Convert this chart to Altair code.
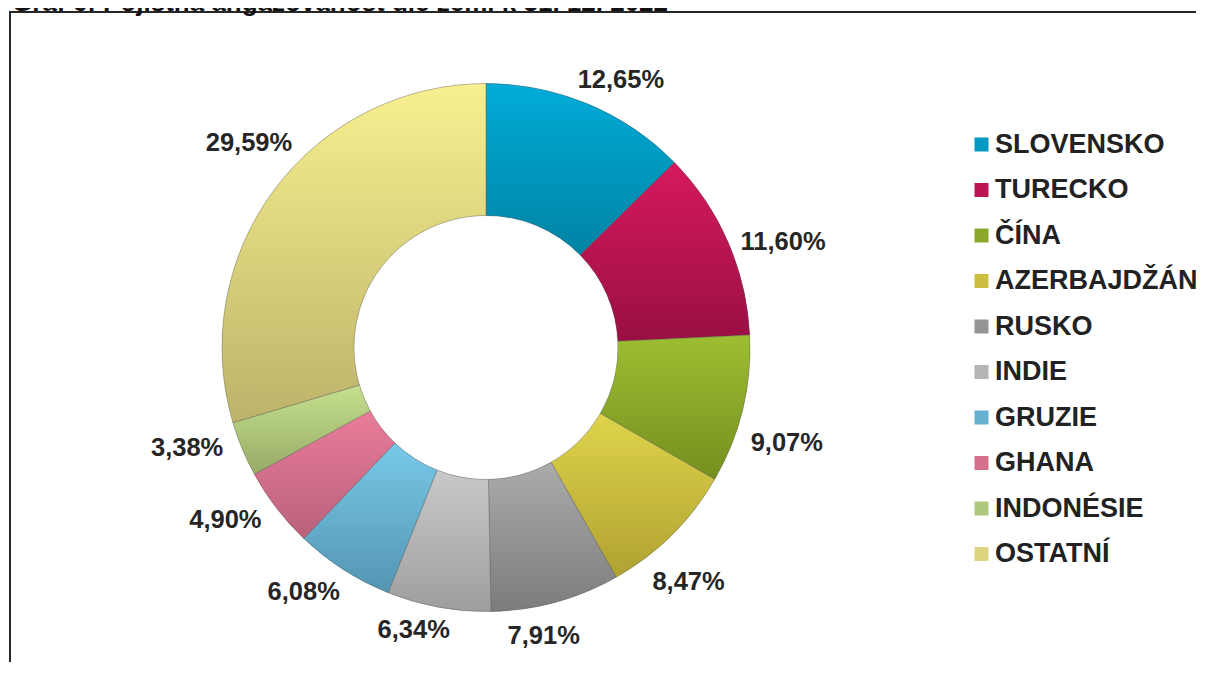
import altair as alt
import pandas as pd

countries = ["SLOVENSKO", "TURECKO", "ČÍNA", "AZERBAJDŽÁN", "RUSKO",
             "INDIE", "GRUZIE", "GHANA", "INDONÉSIE", "OSTATNÍ"]
shares = [12.65, 11.60, 9.07, 8.47, 7.91, 6.34, 6.08, 4.90, 3.38, 29.59]
labels = ["12,65%", "11,60%", "9,07%", "8,47%", "7,91%",
          "6,34%", "6,08%", "4,90%", "3,38%", "29,59%"]
top_colors = ["#00ACD8", "#D6195F", "#9DBE32", "#DFD44B", "#ABABAB",
              "#C9C9C9", "#78C9E8", "#E97C99", "#C6E08F", "#F8F08F"]
bottom_colors = ["#0083A3", "#990F44", "#748F1E", "#B0A132", "#7C7C7C",
                 "#9E9E9E", "#5395B2", "#BA617C", "#96AB66", "#BCB36A"]
legend_colors = ["#0099C2", "#BC1554", "#8AA92A", "#CBBE40", "#959595",
                 "#B5B5B5", "#66B0D0", "#D6708D", "#AFC87D", "#DDD47F"]
title_text = "Graf 6: Pojistná angažovanost dle zemí k 31. 12. 2022"

FONT = "Liberation Sans"
CX, CY = 478, 339.5
R_OUT, R_IN = 264, 132

df = pd.DataFrame({"country": countries, "share": shares, "label": labels,
                   "order": list(range(len(countries)))})

base = alt.Chart(df).transform_joinaggregate(
    total="sum(share)"
).transform_window(
    cum="sum(share)", sort=[alt.SortField("order")], frame=[None, 0]
).transform_calculate(
    start="(datum.cum - datum.share) / datum.total * 2 * PI",
    end="datum.cum / datum.total * 2 * PI",
    mid="(datum.cum - datum.share / 2) / datum.total * 2 * PI",
).transform_calculate(
    lr="272 + 42 * abs(sin(datum.mid)) + 12 * abs(cos(datum.mid))",
    lt="datum.mid + 0.07",
)

ring = base.mark_arc(innerRadius=R_IN, outerRadius=R_OUT).encode(
    theta=alt.Theta("start:Q", scale=None),
    theta2="end:Q",
    color=alt.Color(
        "country:N",
        scale=alt.Scale(domain=countries, range=legend_colors),
        legend=alt.Legend(
            title=None, orient="none", legendX=960, legendY=123,
            symbolType="square", symbolSize=196, symbolStrokeWidth=0,
            symbolOpacity=1, labelFont=FONT, labelFontSize=27,
            labelFontWeight="bold", labelColor="#222222", labelOffset=0,
            rowPadding=17.5, padding=0, labelLimit=400,
        ),
    ),
    x=alt.value(CX), y=alt.value(CY),
)

shades = []
for c, t, b in zip(countries, top_colors, bottom_colors):
    grad = alt.LinearGradient(
        gradient="linear", x1=0, y1=0, x2=0, y2=1,
        stops=[alt.GradientStop(offset=0, color=t),
               alt.GradientStop(offset=1, color=b)],
    )
    shades.append(
        base.transform_filter(alt.datum.country == c).mark_arc(
            innerRadius=R_IN, outerRadius=R_OUT, fill=grad,
            stroke="#5a5a5a", strokeWidth=0.4,
        ).encode(
            theta=alt.Theta("start:Q", scale=None),
            theta2="end:Q",
            x=alt.value(CX), y=alt.value(CY),
        )
    )

text = base.mark_text(
    font=FONT, fontSize=25.5, fontWeight="bold", color="#262626",
    align="center", baseline="middle",
).encode(
    theta=alt.Theta("lt:Q", scale=None),
    radius=alt.Radius("lr:Q", scale=None),
    text="label:N",
    x=alt.value(CX), y=alt.value(CY),
)

title = alt.Chart(pd.DataFrame({"t": [title_text]})).mark_text(
    align="left", baseline="alphabetic", font=FONT, fontSize=26,
    fontWeight="bold", color="#111111",
).encode(text="t:N", x=alt.value(4), y=alt.value(3))

frame = alt.Chart(pd.DataFrame({"f": [0]})).mark_rect(
    fillOpacity=0, stroke="#262626", strokeWidth=2,
).encode(x=alt.value(2), x2=alt.value(1500), y=alt.value(4), y2=alt.value(1200))

chart = alt.layer(frame, ring, *shades, text, title).properties(
    width=1188, height=654, padding=0,
    autosize=alt.AutoSizeParams(type="none"),
).configure_view(stroke=None)

chart.save("out.html", embed_options={"renderer": "svg", "actions": False})
